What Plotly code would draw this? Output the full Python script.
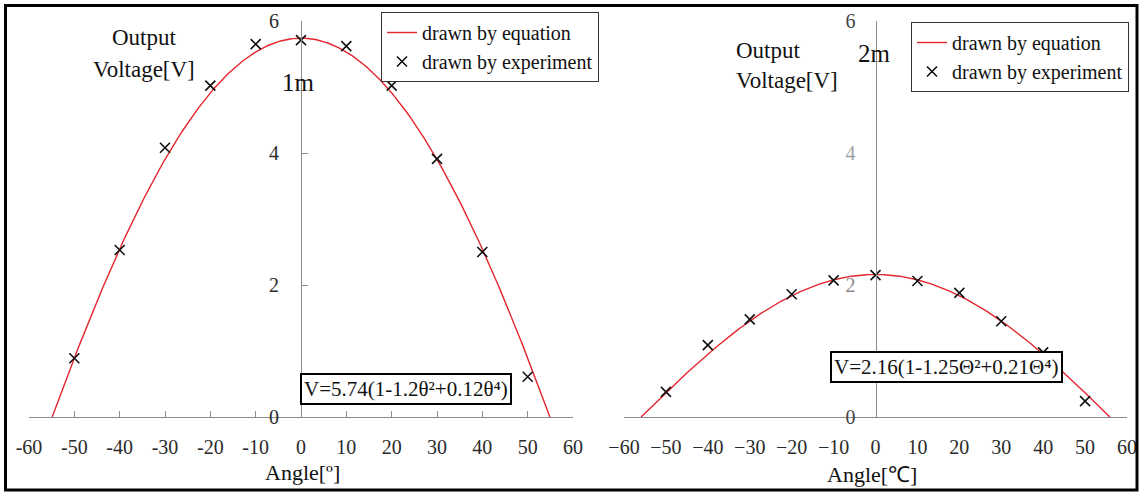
import numpy as np
import plotly.graph_objects as go

W, H = 1141, 493
SERIF = "Liberation Serif"

# Measured points (angle in degrees, output voltage in V)
angles = [-50, -40, -30, -20, -10, 0, 10, 20, 30, 40, 50]
v_exp_1m = [0.89, 2.53, 4.08, 5.02, 5.65, 5.71, 5.62, 5.02, 3.91, 2.50, 0.61]
v_exp_2m = [0.38, 1.09, 1.48, 1.86, 2.07, 2.15, 2.06, 1.88, 1.45, 0.98, 0.24]

# Fitted equations V = a(1 - b*θ² + c*θ⁴), θ in radians
coef_1m = (5.74, 1.2, 0.12)
coef_2m = (2.16, 1.25, 0.21)
eq_text_1m = "V=5.74(1-1.2θ²+0.12θ⁴)"
eq_text_2m = "V=2.16(1-1.25Θ²+0.21Θ⁴)"

# Axis ticks
x_tickvals = [-60, -50, -40, -30, -20, -10, 0, 10, 20, 30, 40, 50, 60]
x_ticktext_1m = ["-60", "-50", "-40", "-30", "-20", "-10", "0", "10", "20", "30", "40", "50", "60"]
x_ticktext_2m = ["−60", "−50", "−40", "−30", "−20", "−10", "0", "10", "20", "30", "40", "50", "60"]
y_tickvals = [0, 2, 4, 6]
y_ticktext_1m = ["0", "2", "4", "6"]
y_ticktext_2m = ["0", "<span style='color:#8a8a8a'>2</span>",
                 "<span style='color:#a0a0a0'>4</span>", "6"]


def equation_curve(coef, n=400):
    """Sample the fitted polynomial between its two zero crossings."""
    a, b, c = coef
    u = (b - np.sqrt(b * b - 4 * c)) / (2 * c)
    tmax = np.degrees(np.sqrt(u))
    deg = np.linspace(-tmax, tmax, n)
    t = np.radians(deg)
    v = a * (1 - b * t ** 2 + c * t ** 4)
    return deg, np.clip(v, 0, None)


def px_x(p):
    return p / W


def px_y(p):
    return 1 - p / H


RED = "#e3262d"
AXIS = "#8c8c8c"

fig = go.Figure()

for coef, v_exp, xa, ya, leg in [
    (coef_1m, v_exp_1m, "x", "y", "legend"),
    (coef_2m, v_exp_2m, "x2", "y2", "legend2"),
]:
    cx, cy = equation_curve(coef)
    fig.add_trace(go.Scatter(
        x=cx, y=cy, mode="lines", name="drawn by equation",
        line=dict(color=RED, width=1.4), xaxis=xa, yaxis=ya,
        legend=leg, legendgroup="eq" + xa, hoverinfo="skip"))
    fig.add_trace(go.Scatter(
        x=angles, y=v_exp, mode="markers", name="drawn by experiment",
        marker=dict(symbol="x-thin-open", size=10, color="#111",
                    line=dict(color="#111", width=1.6)),
        xaxis=xa, yaxis=ya, legend=leg, legendgroup="ex" + xa))

y_domain = [px_y(417), px_y(21)]
tick_font = dict(family=SERIF, size=20, color="#2a2a2a")

fig.update_layout(
    width=W, height=H,
    margin=dict(l=0, r=0, t=0, b=0, pad=0, autoexpand=False),
    paper_bgcolor="white", plot_bgcolor="rgba(0,0,0,0)",
    font=dict(family=SERIF, color="#111"),
    xaxis=dict(domain=[px_x(29), px_x(573)], range=[-60, 60], anchor="y",
               showline=True, linecolor=AXIS, linewidth=1,
               ticks="inside", ticklen=6, tickcolor=AXIS,
               tickvals=x_tickvals, ticktext=x_ticktext_1m,
               tickfont=tick_font, ticklabelstandoff=12, automargin=False,
               showgrid=False, zeroline=False),
    yaxis=dict(domain=y_domain, range=[0, 6], anchor="free",
               position=px_x(301), showline=True, linecolor=AXIS, linewidth=1,
               ticks="inside", ticklen=6, tickcolor=AXIS,
               tickvals=y_tickvals, ticktext=y_ticktext_1m,
               tickfont=tick_font, ticklabelstandoff=18, automargin=False,
               showgrid=False, zeroline=False),
    xaxis2=dict(domain=[px_x(624), px_x(1127)], range=[-60, 60], anchor="y2",
                showline=True, linecolor=AXIS, linewidth=1, ticks="",
                tickvals=x_tickvals, ticktext=x_ticktext_2m,
                tickfont=tick_font, ticklabelstandoff=12, automargin=False,
                showgrid=False, zeroline=False),
    yaxis2=dict(domain=y_domain, range=[0, 6], anchor="free",
                position=px_x(875.5), showline=True, linecolor=AXIS, linewidth=1,
                ticks="", tickvals=y_tickvals, ticktext=y_ticktext_2m,
                tickfont=dict(family=SERIF, size=20, color="#444"),
                ticklabelstandoff=16, automargin=False,
                showgrid=False, zeroline=False),
    legend=dict(x=px_x(381), y=px_y(12), xanchor="left", yanchor="top",
                bordercolor="#333", borderwidth=1, bgcolor="white",
                font=dict(family=SERIF, size=20, color="#111"),
                tracegroupgap=0, itemwidth=30),
    legend2=dict(x=px_x(911), y=px_y(22), xanchor="left", yanchor="top",
                 bordercolor="#333", borderwidth=1, bgcolor="white",
                 font=dict(family=SERIF, size=20, color="#111"),
                 tracegroupgap=0, itemwidth=30),
    showlegend=True,
)

# Outer frame
fig.add_shape(type="rect", xref="paper", yref="paper",
              x0=px_x(5.5), x1=px_x(1137), y0=px_y(490), y1=px_y(5.5),
              line=dict(color="black", width=3), layer="above")


def label(text, x, y, size, xanchor="center", color="#111"):
    fig.add_annotation(text=text, x=px_x(x), y=px_y(y), xref="paper", yref="paper",
                       xanchor=xanchor, yanchor="middle", showarrow=False,
                       font=dict(family=SERIF, size=size, color=color))


# Axis titles and panel captions
label("Output", 144, 38, 23)
label("Voltage[V]", 144, 69, 23)
label("Output", 734, 51, 23, xanchor="left")
label("Voltage[V]", 734, 80, 23, xanchor="left")
label("1m", 298, 82, 25)
label("2m", 874, 53, 25)
label("Angle[º]", 302, 472, 22)
label("Angle[℃]", 872, 474, 22)

# Equation boxes
for text, x, y in [(eq_text_1m, 406, 389), (eq_text_2m, 946, 367)]:
    fig.add_annotation(text=text, x=px_x(x), y=px_y(y), xref="paper", yref="paper",
                       xanchor="center", yanchor="middle", showarrow=False,
                       font=dict(family=SERIF, size=21, color="#111"),
                       bordercolor="black", borderwidth=2, borderpad=2,
                       bgcolor="white")

fig.write_html("out.html")
